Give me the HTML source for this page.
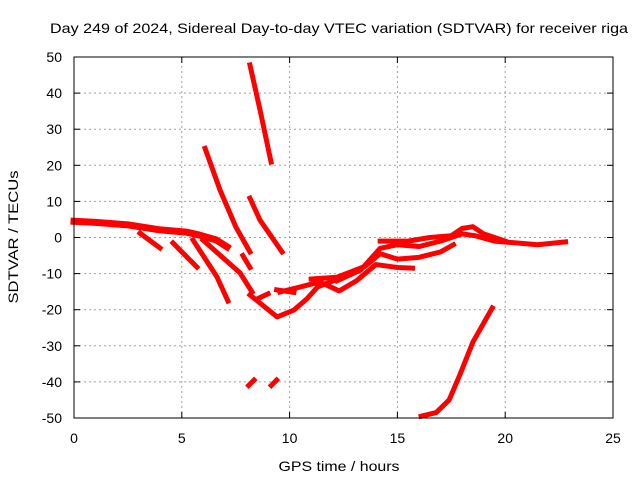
<!DOCTYPE html>
<html><head><meta charset="utf-8"><style>
body{margin:0;background:#fff;}
svg{display:block;font-family:"Liberation Sans",sans-serif;}
</style></head><body>
<svg id="chart" width="640" height="480">
<text x="339" y="33" text-anchor="middle" font-size="14" textLength="578" lengthAdjust="spacingAndGlyphs">Day 249 of 2024, Sidereal Day-to-day VTEC variation (SDTVAR) for receiver riga</text>
<text x="339" y="471" text-anchor="middle" font-size="14" textLength="121" lengthAdjust="spacingAndGlyphs">GPS time / hours</text>
<text transform="translate(18,237) rotate(-90)" text-anchor="middle" font-size="14" textLength="133" lengthAdjust="spacingAndGlyphs">SDTVAR / TECUs</text>
<g id="grid"></g><g id="ticks"></g><g id="series"></g>
<rect x="74" y="57" width="539" height="361" fill="none" stroke="#000" stroke-width="1"/>
</svg>
<script>
const xTicks=[0,5,10,15,20,25];
const yTicks=[50,40,30,20,10,0,-10,-20,-30,-40,-50];
const segUpper=[[0,4.5],[1,4.2],[2.5,3.5],[4,2.1],[5.2,1.5],[5.8,0.7],[6.6,-0.7],[7.1,-2.6]];
const segB1=[[3.06,1.2],[3.99,-2.9]];
const segB2=[[4.59,-1.5],[5.7,-8.2]];
const segB3=[[5.52,-0.7],[6.63,-10.9],[7.14,-17.6]];
const segB4=[[5.98,-0.7],[7.7,-9.8],[8.26,-15.1]];
const segMin=[[8.16,-15.9],[9.42,-22],[10.2,-20.1],[10.8,-17],[11.3,-13.7],[12.1,-11.8]];
const segLower=[[9.55,-15.1],[10.5,-13.7],[11.4,-12.3],[12.3,-14.8],[13.1,-12],[14,-7.5],[15,-8.3],[15.7,-8.5]];
const segMid=[[11,-11.5],[12.2,-11],[13.5,-8],[14.2,-4.5],[15,-6],[16,-5.5],[17,-4],[17.6,-2]];
const segUp=[[12.2,-12],[13.3,-9],[14.2,-3],[15,-2],[16,-2.5],[17,-1],[18,1],[18.6,0.5],[19.5,-1],[20.5,-1.5],[21.5,-2],[22.8,-1.2]];
const segTop=[[14.2,-1],[15.5,-1],[16.5,0],[17.5,0.5],[18,2.5],[18.5,3],[19,1],[20,-1]];
const segA=[[8.16,47.8],[8.63,35.3],[9.14,20.9]];
const segSteepB=[[6.08,24.7],[6.77,13.2],[7.5,3],[8.16,-4]];
const segShort1=[[7.83,-5],[8.16,-8.3]];
const segC=[[8.16,10.9],[8.63,4.8],[9.65,-4]];
const segShort2=[[8.5,-17],[9,-15.6]];
const segShort3=[[9.4,-14.5],[10.2,-15.2]];
const segM40a=[[8.1,-41],[8.35,-39.5]];
const segM40b=[[9.15,-41],[9.4,-39.5]];
const segRise=[[16.1,-49.5],[16.8,-48.5],[17.4,-45],[17.9,-38],[18.5,-29],[19.4,-19.5]];
const allSegs=[segUpper,segB1,segB2,segB3,segB4,segMin,segLower,segMid,segUp,segTop,segA,segSteepB,segShort1,segC,segShort2,segShort3,segM40a,segM40b,segRise];
const NS="http://www.w3.org/2000/svg";
const X0=74,X1=613,Y0=418,Y1=57;
function xs(v){return X0+(v-0)/(25-0)*(X1-X0);}
function ys(v){return Y0-(v+50)/100*(Y0-Y1);}
const grid=document.getElementById('grid'),tk=document.getElementById('ticks'),ser=document.getElementById('series');
function mk(tag,a,p){const e=document.createElementNS(NS,tag);for(const k in a)e.setAttribute(k,a[k]);p.appendChild(e);return e;}
xTicks.forEach(t=>{const x=xs(t);
 if(t>0&&t<25){const g=mk('line',{x1:x,x2:x,y1:Y0,y2:Y1,stroke:'#a0a0a0','stroke-dasharray':'2,3'},grid);
 
 }
 mk('line',{x1:x,x2:x,y1:Y0,y2:Y0-6,stroke:'#000'},tk);
 mk('line',{x1:x,x2:x,y1:Y1,y2:Y1+6,stroke:'#000'},tk);
 const l=mk('text',{x:x,y:443,'text-anchor':'middle','font-size':14},tk);l.textContent=t;
 
 });
yTicks.forEach(t=>{const y=ys(t);
 if(t>-50&&t<50){const g=mk('line',{x1:X0,x2:X1,y1:y,y2:y,stroke:'#a0a0a0','stroke-dasharray':'2,3'},grid);
 
 }
 mk('line',{x1:X0,x2:X0+6,y1:y,y2:y,stroke:'#000'},tk);
 mk('line',{x1:X1,x2:X1-6,y1:y,y2:y,stroke:'#000'},tk);
 const l=mk('text',{x:62,y:y+5,'text-anchor':'end','font-size':14},tk);l.textContent=t;
 
 });
allSegs.forEach((s,i)=>{
 const p=mk('polyline',{points:s.map(d=>xs(d[0])+','+ys(d[1])).join(' '),fill:'none',stroke:'#ff0000','stroke-width':i===0?7:5,'stroke-linejoin':'round','stroke-linecap':'square'},ser);
 
 });
</script>
</body></html>
